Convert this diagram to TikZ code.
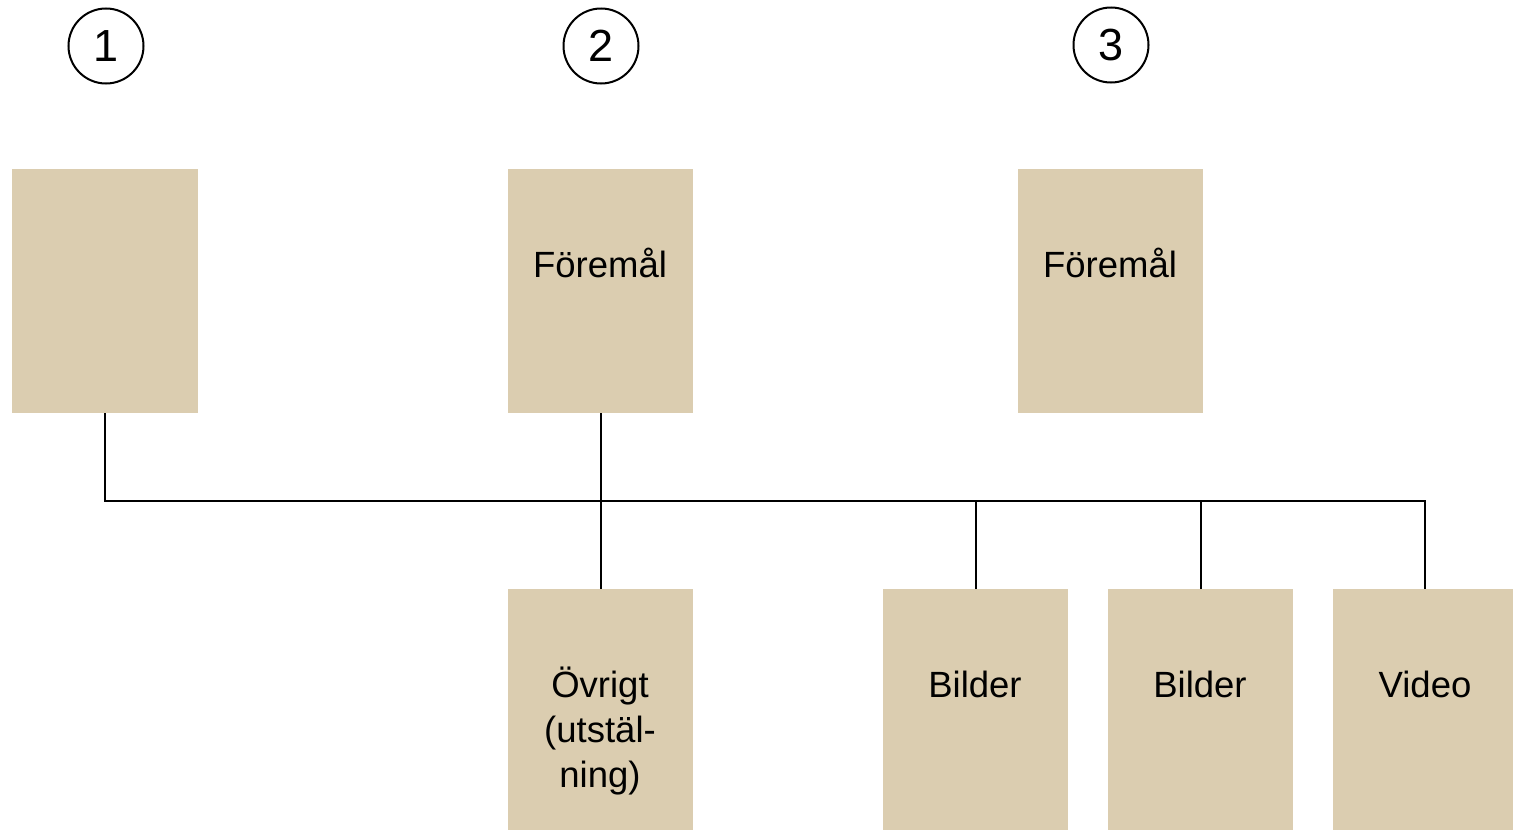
\documentclass[tikz,border=0pt]{standalone}
\usepackage{fontspec}
\setmainfont{Liberation Sans}
\begin{document}
\begin{tikzpicture}[x=1pt,y=-1pt,
  box/.style={rectangle,fill={rgb,255:red,219;green,205;blue,176},draw=none,inner sep=0pt,anchor=north west},
  lbl/.style={font=\fontsize{36.5}{45}\selectfont,align=center,anchor=base,inner sep=0pt},
  num/.style={circle,draw,line width=2pt,minimum size=75pt,inner sep=0pt,font=\fontsize{45}{50}\selectfont},
  conn/.style={line width=2pt}]
\useasboundingbox (0,0) rectangle (1513,830);
% circles
\node[num] (c1) at (106,46) {1};
\node[num] (c2) at (601,46) {2};
\node[num] (c3) at (1111,45) {3};
% top boxes
\node[box,minimum width=186pt,minimum height=244pt] (b1) at (12,169) {};
\node[box,minimum width=185pt,minimum height=244pt] (b2) at (508,169) {};
\node[box,minimum width=185pt,minimum height=244pt] (b3) at (1018,169) {};
% bottom boxes
\node[box,minimum width=185pt,minimum height=241pt] (ov) at (508,589) {};
\node[box,minimum width=185pt,minimum height=241pt] (bi1) at (883,589) {};
\node[box,minimum width=185pt,minimum height=241pt] (bi2) at (1108,589) {};
\node[box,minimum width=180pt,minimum height=241pt] (vid) at (1333,589) {};
% labels
\node[lbl] (t2) at (600,277) {Föremål};
\node[lbl] (t3) at (1110,277) {Föremål};
\node[lbl] (t4) at (600,787) {Övrigt\\(utstäl-\\ning)};
\node[lbl] (t5) at (975,697) {Bilder};
\node[lbl] (t6) at (1200,697) {Bilder};
\node[lbl] (t7) at (1425,697) {Video};
% connectors
\coordinate (j1) at (b1.south |- 0,501);
\coordinate (j2) at (vid.north -| 1425,0);
\draw[conn] (b1.south) -- (j1) -- (1425,501) -- (1425,589);
\draw[conn] (b2.south) -- (ov.north);
\draw[conn] (bi1.north) -- (bi1.north |- j1);
\draw[conn] (bi2.north) -- (bi2.north |- j1);
\end{tikzpicture}
\end{document}
